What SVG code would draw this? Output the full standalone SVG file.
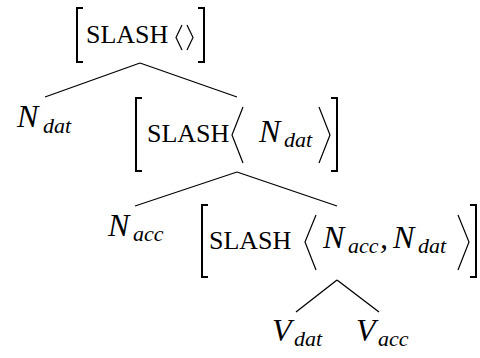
<svg xmlns="http://www.w3.org/2000/svg" width="480" height="358" viewBox="0 0 480 358">
<style>
.rm{font-family:"Liberation Serif","DejaVu Serif",serif;font-size:26px;fill:#000}
.mi{font-family:"Liberation Serif","DejaVu Serif",serif;font-style:italic;font-size:32px;fill:#000}
.sb{font-family:"Liberation Serif","DejaVu Serif",serif;font-style:italic;font-size:22px;fill:#000}
.br{fill:none;stroke:#000;stroke-width:2}
.ag{fill:none;stroke:#000;stroke-width:1.2}
.ed{fill:none;stroke:#000;stroke-width:1.3}
</style>
<rect width="480" height="358" fill="#fff"/>
<g id="edges">
<line class="ed" x1="140" y1="63" x2="45" y2="97"/>
<line class="ed" x1="140" y1="63" x2="237" y2="97"/>
<line class="ed" x1="237" y1="172" x2="135" y2="206"/>
<line class="ed" x1="237" y1="172" x2="337" y2="206"/>
<line class="ed" x1="337" y1="280" x2="296" y2="312"/>
<line class="ed" x1="337" y1="280" x2="379" y2="312"/>
</g>
<g id="n1">
<polyline class="br" points="83,8 77,8 77,62 83,62"/>
<text class="rm" x="86" y="43">SLASH</text>
<polyline class="ag" points="182,25 176,37.5 182,50"/>
<polyline class="ag" points="187,25 193,37.5 187,50"/>
<polyline class="br" points="198,8 204,8 204,62 198,62"/>
</g>
<g id="ndat1">
<text class="mi" x="17" y="127">N</text>
<text class="sb" x="43" y="133">dat</text>
</g>
<g id="n2">
<polyline class="br" points="142,98 136,98 136,171 142,171"/>
<text class="rm" x="147" y="142">SLASH</text>
<polyline class="ag" points="243,107 232,135 243,163"/>
<text class="mi" x="259" y="142">N</text>
<text class="sb" x="284" y="147">dat</text>
<polyline class="ag" points="319,107 330,135 319,163"/>
<polyline class="br" points="331,98 337,98 337,171 331,171"/>
</g>
<g id="nacc1">
<text class="mi" x="108" y="236">N</text>
<text class="sb" x="133" y="241">acc</text>
</g>
<g id="n3">
<polyline class="br" points="208,205 202,205 202,277 208,277"/>
<text class="rm" x="209" y="249">SLASH</text>
<polyline class="ag" points="316,215 305,242 316,270"/>
<text class="mi" x="323" y="248">N</text>
<text class="sb" x="348" y="253">acc</text>
<text class="mi" x="380" y="248">,</text>
<text class="mi" x="393" y="248">N</text>
<text class="sb" x="418" y="253">dat</text>
<polyline class="ag" points="458,215 469,242 458,270"/>
<polyline class="br" points="470,205 476,205 476,277 470,277"/>
</g>
<g id="vdat">
<text class="mi" x="272" y="341">V</text>
<text class="sb" x="294" y="346">dat</text>
</g>
<g id="vacc">
<text class="mi" x="356" y="341">V</text>
<text class="sb" x="378" y="346">acc</text>
</g>
</svg>
